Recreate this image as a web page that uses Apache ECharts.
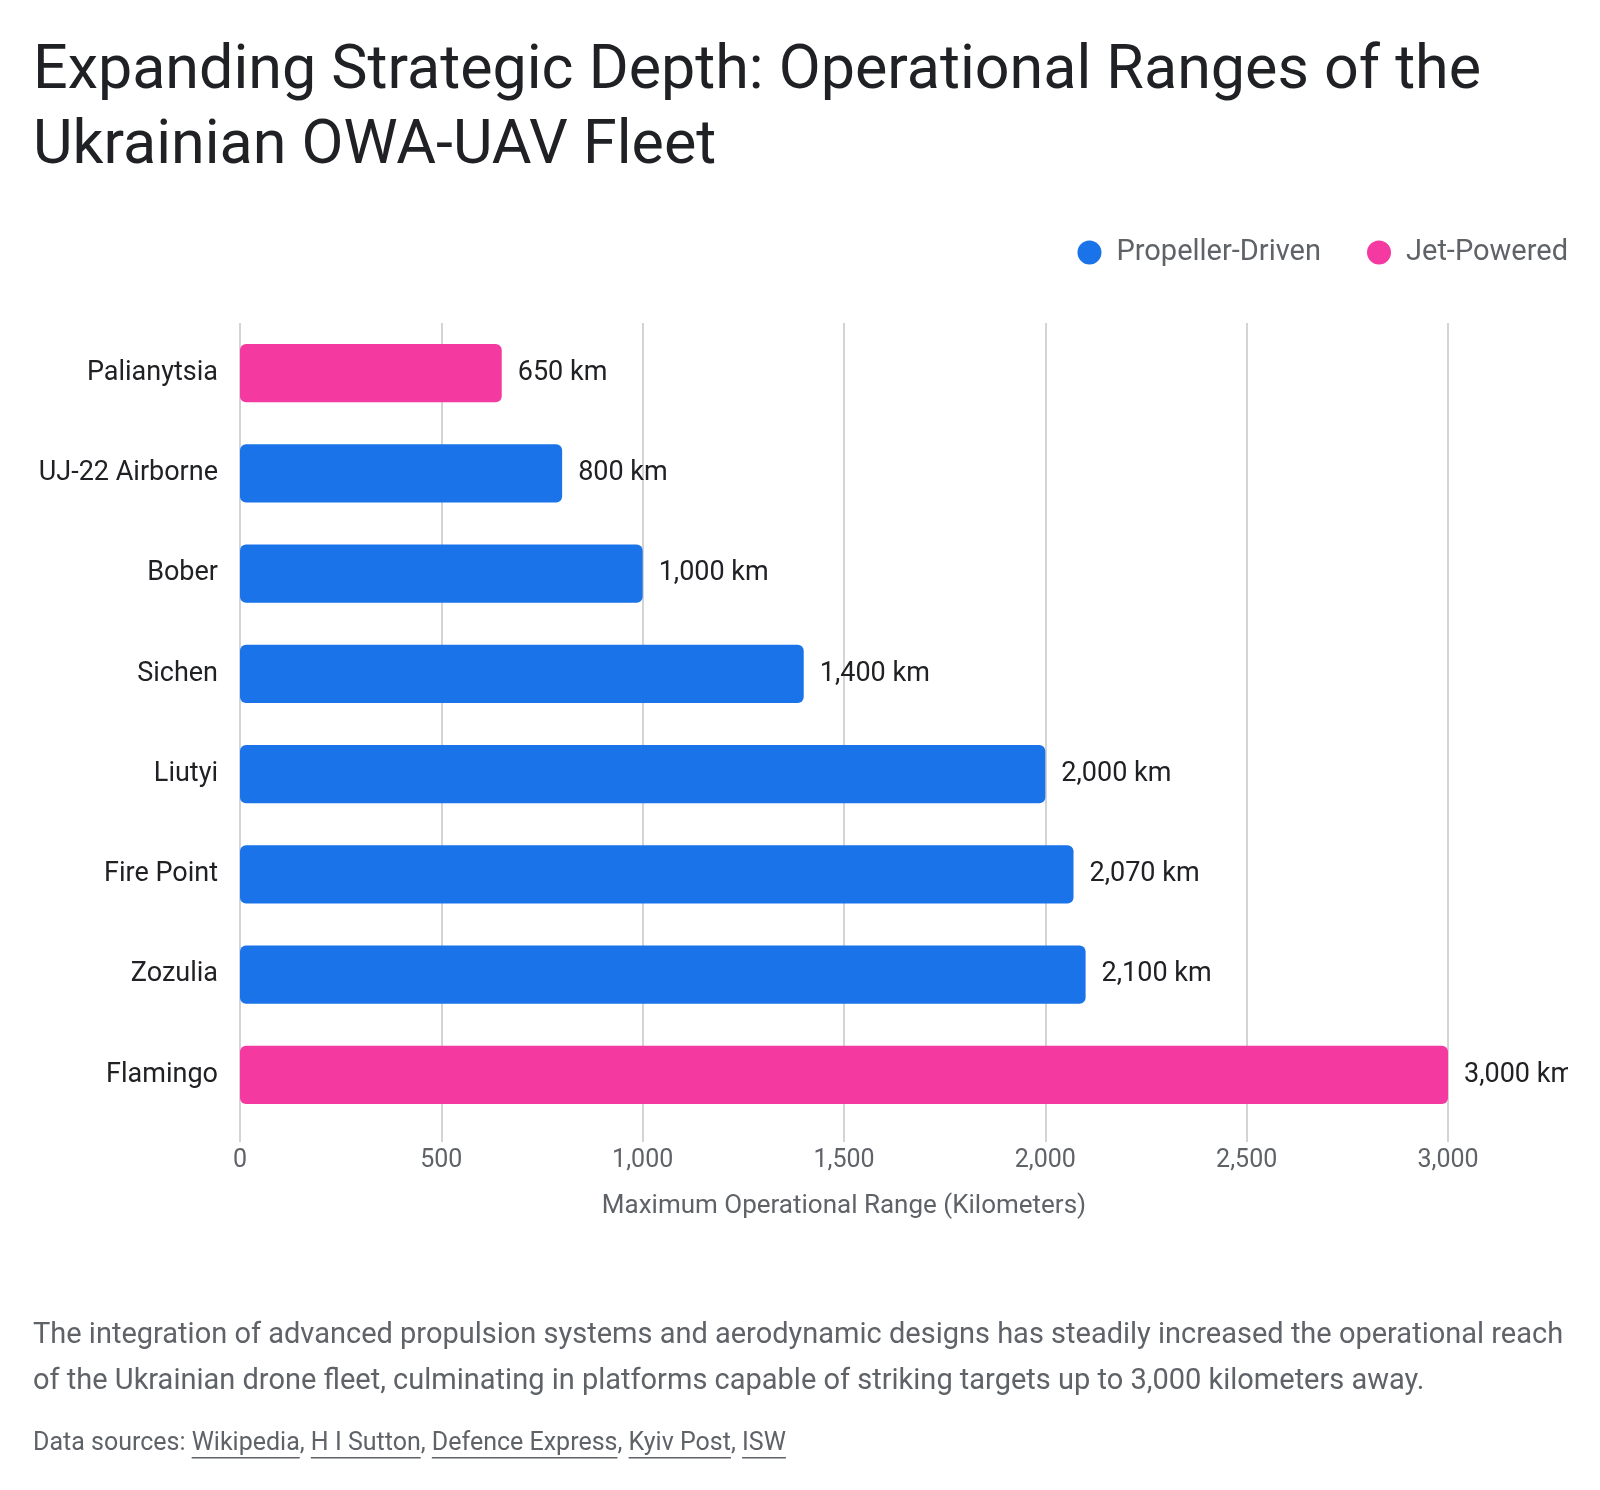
<!DOCTYPE html>
<html>
<head>
<meta charset="utf-8">
<title>Operational Ranges of the Ukrainian OWA-UAV Fleet</title>
<script src="https://cdn.jsdelivr.net/npm/echarts@6/dist/echarts.min.js"></script>
<style>
  html, body { margin: 0; padding: 0; background: #fff; }
  #chart { width: 1568px; height: 1490px; }
</style>
</head>
<body>
<div id="chart"></div>
<script>
// drones, top to bottom
var categories = ['Palianytsia', 'UJ-22 Airborne', 'Bober', 'Sichen', 'Liutyi', 'Fire Point', 'Zozulia', 'Flamingo'];
// range in km, '-' where the drone belongs to the other group
var propellerRange = ['-', 800, 1000, 1400, 2000, 2070, 2100, '-'];
var jetRange = [650, '-', '-', '-', '-', '-', '-', 3000];
var xTicks = [0, 500, 1000, 1500, 2000, 2500, 3000];

var FONT = 'Roboto, "Noto Sans", sans-serif';
var DARK = '#202124';
var GREY = '#5f6368';

var sources = ['Wikipedia', 'H I Sutton', 'Defence Express', 'Kyiv Post', 'ISW'];

function fmt(v) {
    return String(v).replace(/\B(?=(\d{3})+(?!\d))/g, ',');
}

// measure text so the links in the footer can be underlined
var ctx = document.createElement('canvas').getContext('2d');
function textWidth(s, size) {
    ctx.font = size + 'px ' + FONT;
    return ctx.measureText(s).width;
}

function footerGraphics() {
    var size = 25, x = 33, y = 1445;
    var out = [];
    var parts = [{ t: 'Data sources: ', link: false }];
    sources.forEach(function (s, i) {
        parts.push({ t: s, link: true });
        if (i < sources.length - 1) parts.push({ t: ', ', link: false });
    });
    parts.forEach(function (p) {
        var w = textWidth(p.t, size);
        out.push({
            type: 'text', left: x, top: y - 14,
            style: { text: p.t, fill: GREY, font: size + 'px ' + FONT }
        });
        if (p.link) {
            out.push({
                type: 'rect', shape: { x: x, y: y + 12, width: w, height: 1.5 },
                style: { fill: GREY }
            });
        }
        x += w;
    });
    return out;
}

var chart = echarts.init(document.getElementById('chart'));

var barLabel = {
    show: true,
    position: 'right',
    distance: 16,
    color: DARK,
    fontFamily: FONT,
    fontSize: 27,
    formatter: function (p) { return fmt(p.value) + ' km'; }
};

chart.setOption({
    animation: false,
    textStyle: { fontFamily: FONT },
    title: {
        text: 'Expanding Strategic Depth: Operational Ranges of the\nUkrainian OWA-UAV Fleet',
        left: 28,
        top: 30,
        textStyle: {
            color: DARK,
            fontFamily: FONT,
            fontWeight: 'normal',
            fontSize: 61,
            lineHeight: 75
        }
    },
    legend: {
        right: 0,
        top: 238,
        padding: 0,
        icon: 'circle',
        itemWidth: 24,
        itemHeight: 24,
        itemGap: 46,
        textStyle: { color: GREY, fontSize: 29, fontFamily: FONT, padding: [0, 0, 0, 10] },
        data: ['Propeller-Driven', 'Jet-Powered']
    },
    grid: {
        left: 240,
        right: 120,
        top: 323,
        height: 802,
        containLabel: false
    },
    xAxis: {
        type: 'value',
        min: 0,
        max: 3000,
        interval: 500,
        name: 'Maximum Operational Range (Kilometers)',
        nameLocation: 'middle',
        nameGap: 68,
        nameTextStyle: { color: GREY, fontSize: 26, fontFamily: FONT },
        axisLine: { show: false },
        axisTick: { show: true, length: 17, lineStyle: { color: '#c6c6c6', width: 1.5 } },
        splitLine: { show: true, lineStyle: { color: '#c6c6c6', width: 1.5 } },
        axisLabel: {
            color: GREY,
            fontSize: 25,
            margin: 23,
            fontFamily: FONT,
            customValues: xTicks,
            formatter: function (v) { return fmt(v); }
        }
    },
    yAxis: {
        type: 'category',
        inverse: true,
        data: categories,
        axisLine: { show: false },
        axisTick: { show: false },
        axisLabel: { color: DARK, fontSize: 27, margin: 22, fontFamily: FONT }
    },
    series: [
        {
            name: 'Propeller-Driven',
            type: 'bar',
            stack: 'range',
            barCategoryGap: '42%',
            itemStyle: { color: '#1a73e8', borderRadius: 6 },
            label: barLabel,
            data: propellerRange
        },
        {
            name: 'Jet-Powered',
            type: 'bar',
            stack: 'range',
            barCategoryGap: '42%',
            itemStyle: { color: '#f439a0', borderRadius: 6 },
            label: barLabel,
            data: jetRange
        }
    ],
    graphic: [
        {
            type: 'text',
            left: 33,
            top: 1313,
            style: {
                text: 'The integration of advanced propulsion systems and aerodynamic designs has steadily increased the operational reach\n' +
                      'of the Ukrainian drone fleet, culminating in platforms capable of striking targets up to 3,000 kilometers away.',
                fill: GREY,
                font: '29px ' + FONT,
                lineHeight: 46
            }
        }
    ].concat(footerGraphics())
});
</script>
</body>
</html>
